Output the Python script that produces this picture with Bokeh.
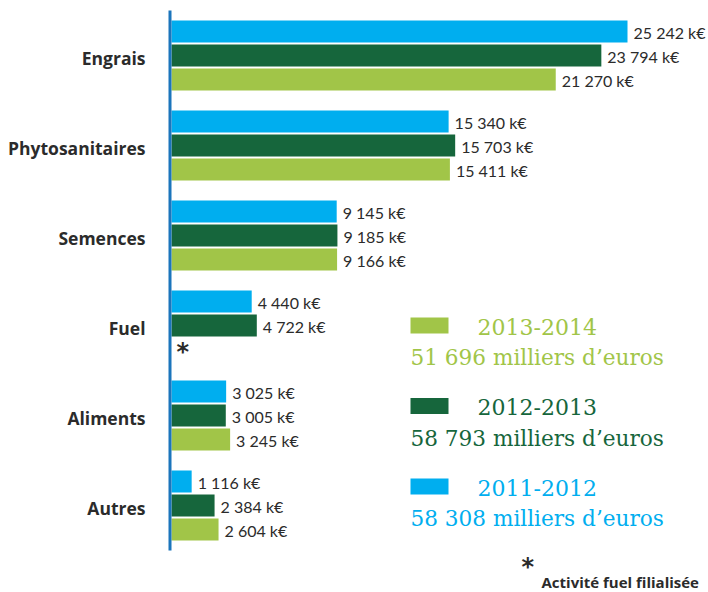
from bokeh.plotting import figure
from bokeh.models import Range1d, ColumnDataSource
from bokeh.core.properties import value
from bokeh.embed import file_html
from bokeh.resources import INLINE
import math

categories = ["Engrais", "Phytosanitaires", "Semences", "Fuel", "Aliments", "Autres"]
v2011 = [25242, 15340, 9145, 4440, 3025, 1116]
v2012 = [23794, 15703, 9185, 4722, 3005, 2384]
v2013 = [21270, 15411, 9166, float("nan"), 3245, 2604]
series_names = ["2013-2014", "2012-2013", "2011-2012"]
series_totals = ["51 696 milliers d\u2019euros", "58 793 milliers d\u2019euros", "58 308 milliers d\u2019euros"]
footnote = "Activit\u00e9 fuel filialis\u00e9e"

C_BLUE = "#00aeef"
C_DARK = "#16663c"
C_LIGHT = "#a1c548"
C_AXIS = "#1b75bc"
C_TEXT = "#2b2b2b"

W, H = 706, 591
OFF = 0                 # page offset of the canvas as rendered
ORIGIN = 171 - OFF      # canvas px where value 0 sits
UNITS_PER_PX = 25242 / 456.0

def px(xpage):
    return (xpage - OFF - ORIGIN) * UNITS_PER_PX

def py(ypage):
    return ypage - OFF

p = figure(width=W, height=H, output_backend="svg", toolbar_location=None,
           x_range=Range1d(-ORIGIN * UNITS_PER_PX, (W - ORIGIN) * UNITS_PER_PX),
           y_range=Range1d(H, 0), min_border=0)
p.axis.visible = False
p.grid.visible = False
p.outline_line_color = None
p.background_fill_color = None

def fmt(v):
    return f"{int(v):,}".replace(",", " ") + " k\u20ac"

centers = [py(55 + 90 * i) for i in range(len(categories))]
BAR_H = 22
series = [(v2011, C_BLUE, -24), (v2012, C_DARK, 0), (v2013, C_LIGHT, 24)]
for vals, col, off in series:
    ys = [c + off for c in centers]
    keep = [i for i, v in enumerate(vals) if not math.isnan(v)]
    src = ColumnDataSource(dict(y=[ys[i] for i in keep], r=[vals[i] for i in keep],
                                lab=[fmt(vals[i]) for i in keep]))
    p.hbar(y="y", left=0, right="r", height=BAR_H, source=src, fill_color=col, line_color=None)
    p.text(x="r", y="y", text="lab", source=src, x_offset=6, y_offset=1,
           text_font=value("Lato"), text_font_size="16px", text_color=C_TEXT,
           text_baseline="middle", text_align="left")

# axis line
p.segment(x0=[px(169.5)], y0=[py(10)], x1=[px(169.5)], y1=[py(550)], line_color=C_AXIS, line_width=3)

# category labels
p.text(x=[0] * len(categories), y=[c + 2 for c in centers], text=categories, x_offset=-26,
       text_font=value("Open Sans"), text_font_style="bold", text_font_size="17.5px",
       text_color=C_TEXT, text_baseline="middle", text_align="right")

# fuel asterisk
p.text(x=[0], y=[centers[3] + 24], text=["*"], x_offset=5, y_offset=2,
       text_font=value("DejaVu Sans"), text_font_style="bold", text_font_size="24px",
       text_color=C_TEXT, text_baseline="middle", text_align="left")

# legend
leg_cols = [C_LIGHT, C_DARK, C_BLUE]
for i, (name, tot, col) in enumerate(zip(series_names, series_totals, leg_cols)):
    top = 317 + 80.5 * i
    p.quad(left=[px(410)], right=[px(448)], top=[py(top)], bottom=[py(top + 16)],
           fill_color=col, line_color=None)
    p.text(x=[px(477)], y=[py(top + 9)], text=[name], text_font=value("DejaVu Serif"),
           text_font_size="22px", text_color=col, text_baseline="middle", text_align="left")
    p.text(x=[px(410)], y=[py(top + 40)], text=[tot], text_font=value("DejaVu Serif"),
           text_font_size="21.6px", text_color=col, text_baseline="middle", text_align="left")

# footnote
p.text(x=[px(521)], y=[py(566)], text=["*"], text_font=value("DejaVu Sans"), text_font_style="bold",
       text_font_size="24px", text_color=C_TEXT, text_baseline="middle", text_align="left")
p.text(x=[px(541)], y=[py(581)], text=[footnote], text_font=value("Open Sans"), text_font_style="bold",
       text_font_size="15px", text_color=C_TEXT, text_baseline="middle", text_align="left")

open("out.html", "w").write(file_html(p, INLINE))
